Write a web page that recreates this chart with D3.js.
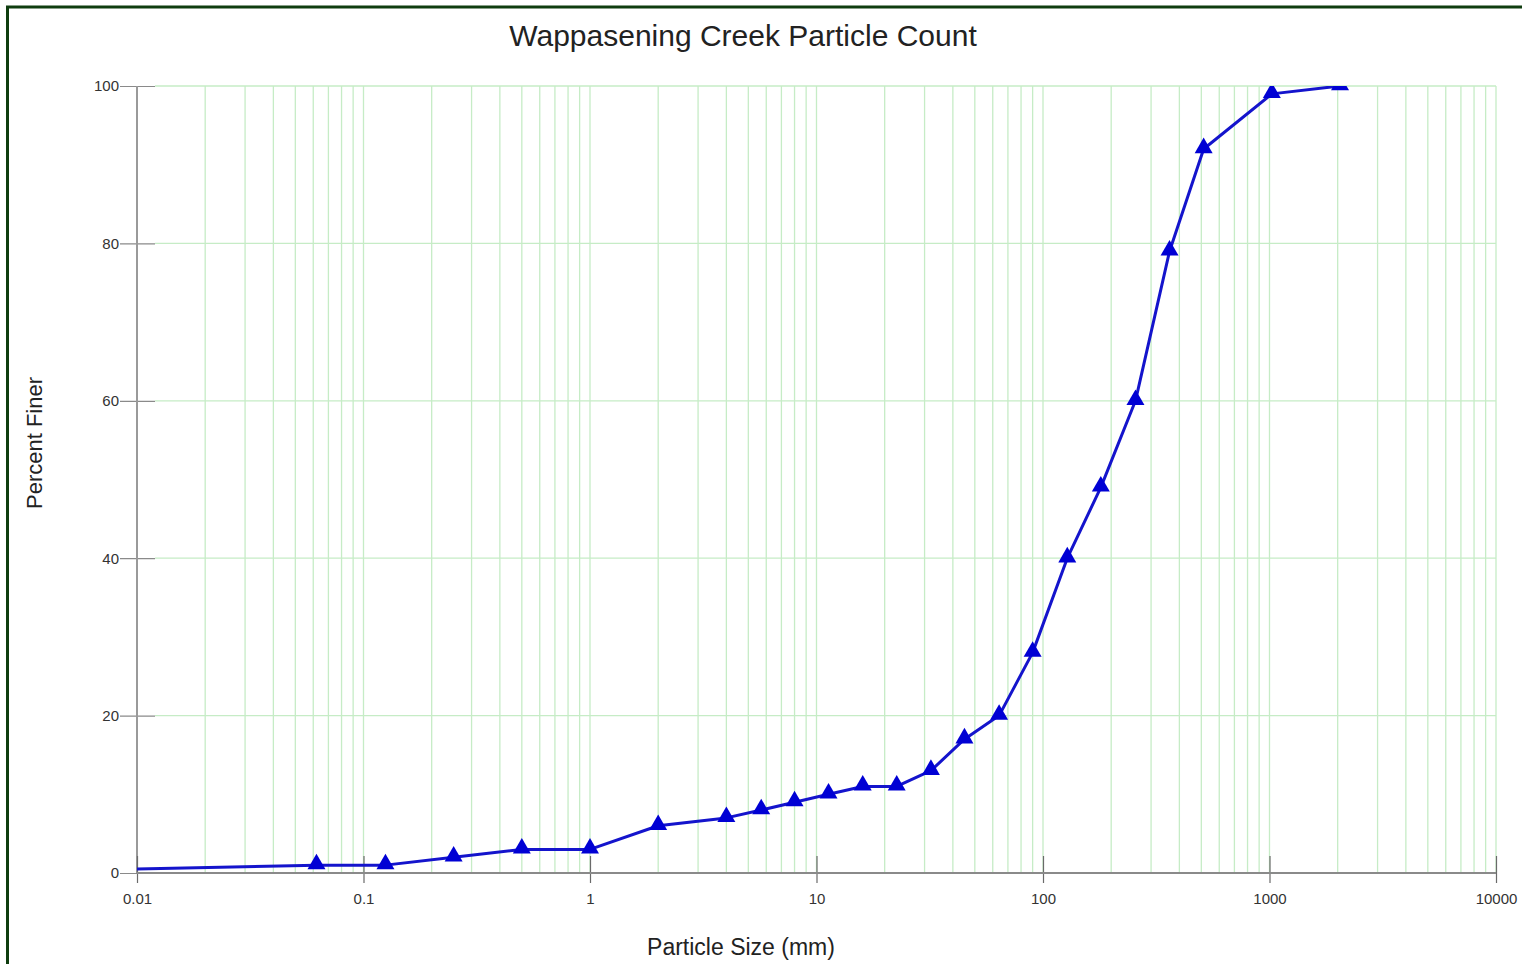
<!DOCTYPE html>
<html>
<head>
<meta charset="utf-8">
<script src="https://cdn.jsdelivr.net/npm/d3@7"></script>
<style>
  html, body { margin: 0; padding: 0; background: #fff; }
  svg { display: block; font-family: Arial, "Liberation Sans", sans-serif; }
</style>
</head>
<body>
<svg id="chart" width="1522" height="964"></svg>
<script>
// Sieve sizes (mm) and cumulative percent finer
const sizes   = [0.01, 0.062, 0.125, 0.25, 0.5, 1, 2, 4, 5.7, 8, 11.3, 16, 22.6, 32, 45, 64, 90, 128, 180, 256, 362, 512, 1024, 2048];
const percent = [0.5,  1,     1,     2,    3,   3, 6, 7, 8,   9, 10,   11, 11,   13, 17, 20, 28, 40,  49,  60,  79,  92,  99,   100];
// first entry is the curve's left anchor, drawn without a marker
const markerFrom = 1;

const xTickValues = [0.01, 0.1, 1, 10, 100, 1000, 10000];
const xTickLabels = ["0.01", "0.1", "1", "10", "100", "1000", "10000"];
const yTickValues = [0, 20, 40, 60, 80, 100];

const title = "Wappasening Creek Particle Count";
const xTitle = "Particle Size (mm)";
const yTitle = "Percent Finer";

const svg = d3.select("#chart");
const W = 1522, H = 964;
const plot = { left: 137, right: 1496, top: 86, bottom: 873 };

// outer frame
svg.append("rect")
  .attr("x", 7.5).attr("y", 7).attr("width", W - 6).attr("height", H + 10)
  .attr("fill", "none").attr("stroke", "#0f3d0f").attr("stroke-width", 3);

const x = d3.scaleLog().domain([0.01, 10000]).range([plot.left, plot.right]);
const y = d3.scaleLinear().domain([0, 100]).range([plot.bottom, plot.top]);

// vertical grid: 1..9 within each decade
const gridX = [];
for (let e = -2; e < 4; e++) {
  for (let m = 1; m <= 9; m++) gridX.push(m * Math.pow(10, e));
}
gridX.push(10000);

const grid = svg.append("g").attr("stroke", "#c6ecc6").attr("stroke-width", 1.3);
grid.selectAll("line.v").data(gridX.filter(v => v > 0.01)).join("line")
  .attr("class", "v")
  .attr("x1", d => x(d)).attr("x2", d => x(d))
  .attr("y1", plot.top).attr("y2", plot.bottom);
grid.selectAll("line.h").data(yTickValues.filter(v => v > 0)).join("line")
  .attr("class", "h")
  .attr("x1", 155).attr("x2", plot.right)
  .attr("y1", d => y(d)).attr("y2", d => y(d));

// y axis
const yAxis = d3.axisLeft(y).tickValues(yTickValues).tickSize(17).tickPadding(1).tickFormat(d3.format("d"));
const gy = svg.append("g").attr("transform", `translate(${plot.left},0)`).call(yAxis);
gy.select(".domain").remove();
gy.selectAll(".tick line").attr("stroke", "#8a8a8a").attr("stroke-width", 1.2).attr("x2", 18).attr("x1", -17);
gy.selectAll(".tick text").attr("fill", "#333").attr("font-size", 15);
svg.append("line")
  .attr("x1", plot.left).attr("x2", plot.left)
  .attr("y1", plot.top).attr("y2", plot.bottom)
  .attr("stroke", "#9a9a9a").attr("stroke-width", 2);

// x axis
const xAxis = d3.axisBottom(x).tickValues(xTickValues)
  .tickFormat((d, i) => xTickLabels[i]).tickSize(10).tickPadding(10);
const gx = svg.append("g").attr("transform", `translate(0,${plot.bottom})`).call(xAxis);
gx.select(".domain").remove();
gx.selectAll(".tick line").attr("stroke", "#6a6a6a").attr("stroke-width", 1.2).attr("y1", -17);
gx.selectAll(".tick text").attr("fill", "#333").attr("font-size", 15);
svg.append("line")
  .attr("x1", plot.left).attr("x2", plot.right)
  .attr("y1", plot.bottom).attr("y2", plot.bottom)
  .attr("stroke", "#8a8a8a").attr("stroke-width", 2);

// clip region for the data series
svg.append("clipPath").attr("id", "plotClip")
  .append("rect")
  .attr("x", plot.left).attr("y", plot.top)
  .attr("width", plot.right - plot.left).attr("height", plot.bottom - plot.top);

const data = sizes.map((s, i) => ({ s, p: percent[i] }));
const series = svg.append("g").attr("clip-path", "url(#plotClip)");

series.append("path")
  .datum(data)
  .attr("fill", "none")
  .attr("stroke", "#1414cc")
  .attr("stroke-width", 3)
  .attr("stroke-linejoin", "round")
  .attr("d", d3.line().x(d => x(d.s)).y(d => y(d.p)));

const tri = d3.symbol().type(d3.symbolTriangle).size(140);
series.selectAll("path.mk").data(data.slice(markerFrom)).join("path")
  .attr("class", "mk")
  .attr("transform", d => `translate(${x(d.s)},${y(d.p) - 1})`)
  .attr("d", tri)
  .attr("fill", "#0000d4");

// titles
svg.append("text")
  .attr("x", 743).attr("y", 46)
  .attr("text-anchor", "middle").attr("font-size", 30).attr("fill", "#222")
  .text(title);

svg.append("text")
  .attr("x", 741).attr("y", 955)
  .attr("text-anchor", "middle").attr("font-size", 23).attr("fill", "#222")
  .text(xTitle);

svg.append("text")
  .attr("transform", "translate(42,443) rotate(-90)")
  .attr("text-anchor", "middle").attr("font-size", 22).attr("fill", "#222")
  .text(yTitle);
</script>
</body>
</html>
